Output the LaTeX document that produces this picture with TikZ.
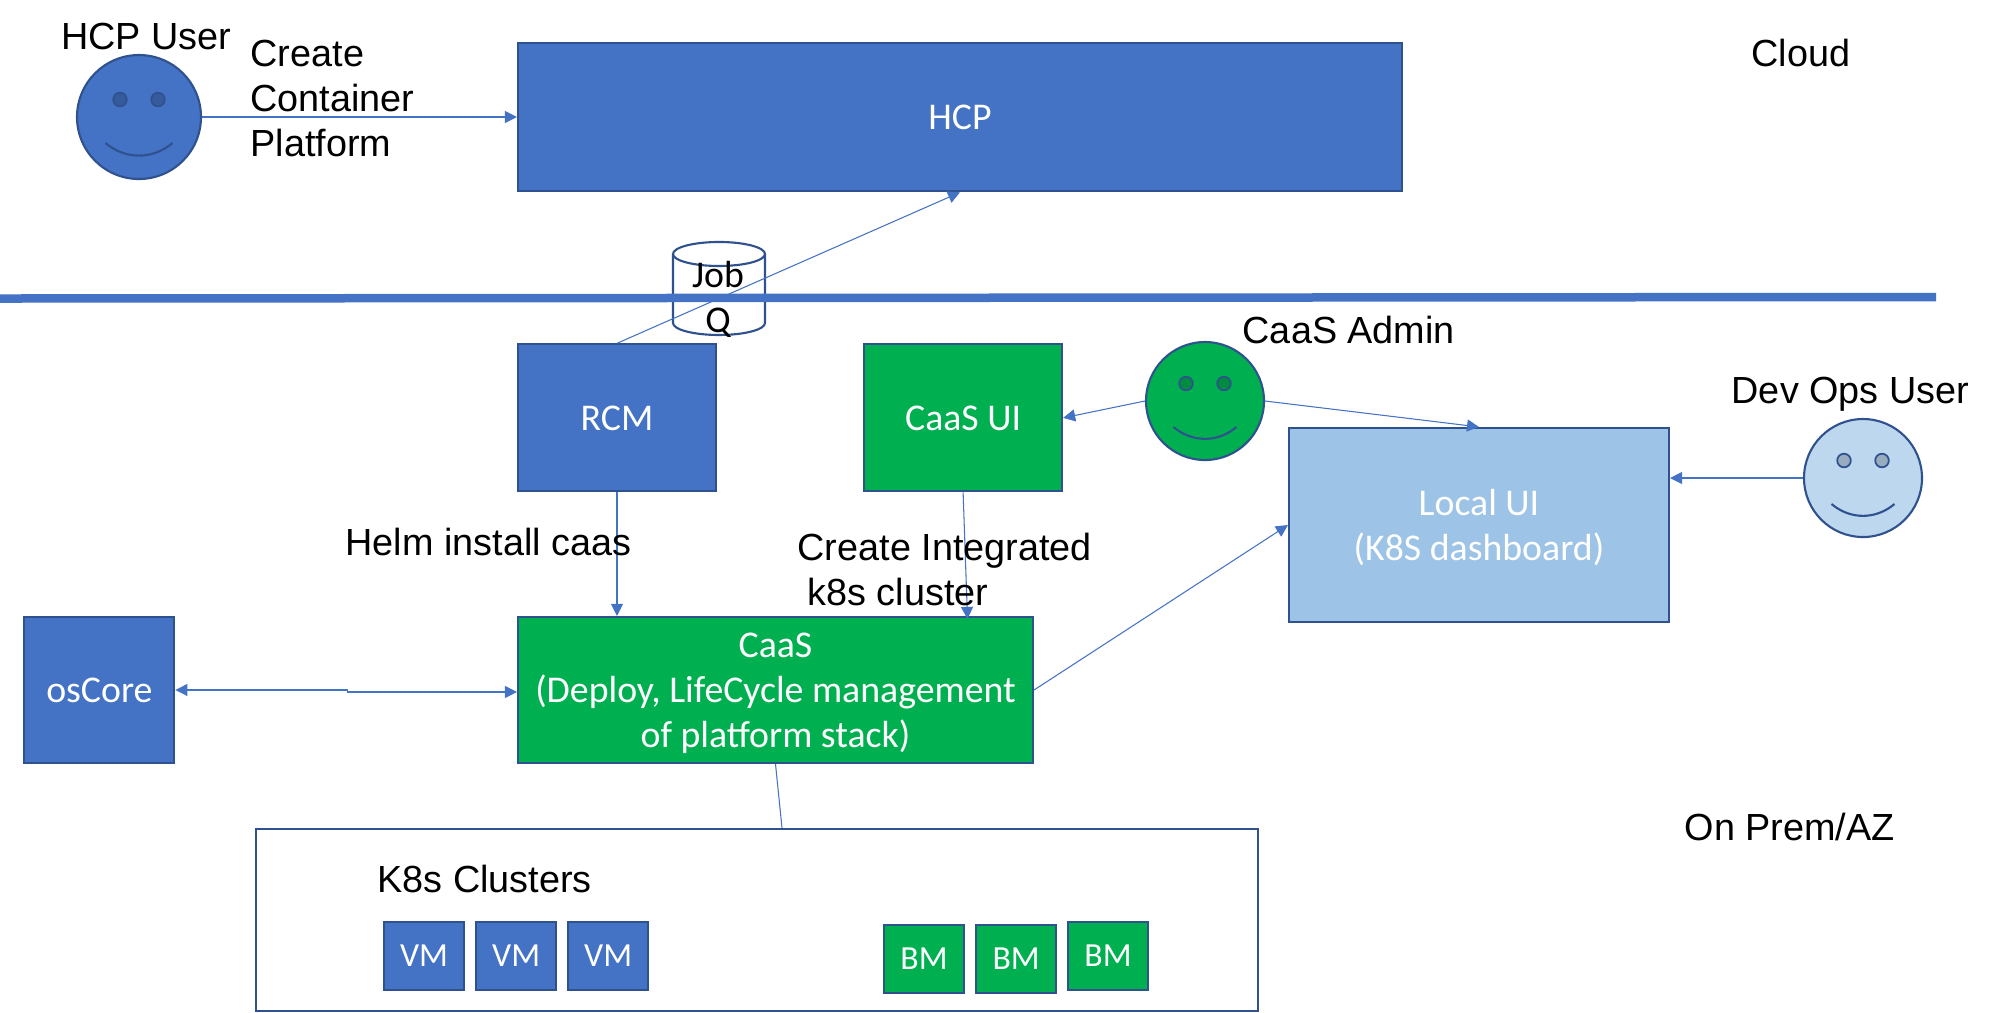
\documentclass[tikz,border=0pt]{standalone}
\usepackage{xcolor}
\usepackage{fontspec}
\setmainfont{Liberation Sans}
\newfontfamily\boxfont{Carlito}
\usepackage{tikz}
\usetikzlibrary{shapes.geometric, arrows.meta, positioning, calc}
\definecolor{hcpblue}{HTML}{4472C4}
\definecolor{caasgreen}{HTML}{00B050}
\definecolor{edgeblue}{HTML}{2F528F}
\definecolor{localblue}{HTML}{9DC3E6}
\definecolor{facelight}{HTML}{BDD7EE}
\newcommand{\labelsize}{\fontsize{10.75pt}{12.8pt}\selectfont}

\begin{document}
\begin{tikzpicture}[
  bluebox/.style={rectangle, draw=edgeblue, line width=0.6pt, fill=hcpblue, text=white, align=center, inner sep=0pt, text depth=0pt, font=\boxfont\labelsize},
  greenbox/.style={bluebox, fill=caasgreen},
  smallbox/.style={minimum width=0.8cm, minimum height=0.685cm, font=\boxfont\fontsize{9.6pt}{12.8pt}\selectfont},
  face/.style={circle, draw=edgeblue, line width=0.6pt, minimum size=1.18cm, inner sep=0pt},
  eye/.style={draw=edgeblue, line width=0.5pt, fill=black, fill opacity=0.2},
  mouth/.style={draw=edgeblue, line width=0.6pt},
  caption/.style={anchor=west, align=left, inner sep=0pt, font=\labelsize},
  arrow/.style={-{Triangle[length=1.2mm, width=1.2mm]}, line width=0.3pt, color=hcpblue},
  biarrow/.style={arrow, {Triangle[length=1.2mm, width=1.2mm]}-{Triangle[length=1.2mm, width=1.2mm]}}
]
  \useasboundingbox (0,0) rectangle (19.91,-10.12);

  % cloud side
  \node[face, fill=hcpblue, minimum size=1.24cm] (hcpuser) at (1.39,-1.17) {};
  \node[bluebox, minimum width=8.84cm, minimum height=1.485cm] (hcp) at (9.6,-1.17) {HCP};

  % job queue sits under the divider
  \node[cylinder, shape border rotate=90, shape aspect=0.4, draw=edgeblue, line width=0.6pt, fill=white,
        minimum width=0.92cm, minimum height=0.93cm, inner sep=0pt, text width=0.6cm, text height=0.1cm, text depth=0pt] (jobq) at (7.19,-2.95) {};
  \node[align=center, inner sep=0pt, font=\boxfont\labelsize] (jobqtext) at (7.18,-2.99) {Job\\Q};
  \coordinate (divleft) at (0,-2.985);
  \coordinate (divright) at (19.36,-2.97);
  \draw[line width=0.085cm, color=hcpblue] (divleft) -- (divright);

  % on prem side
  \node[bluebox, minimum width=1.98cm, minimum height=1.47cm, below=1.51cm of hcp.south west, anchor=north west] (rcm) {RCM};
  \node[greenbox, minimum width=1.98cm, minimum height=1.47cm, right=1.46cm of rcm] (caasui) {CaaS UI};
  \node[greenbox, minimum width=5.15cm, minimum height=1.46cm, below=1.235cm of rcm.south west, anchor=north west] (caas) {CaaS\\(Deploy, LifeCycle management\\of platform stack)};
  \node[bluebox, minimum width=1.5cm, minimum height=1.46cm, left=3.415cm of caas] (oscore) {osCore};
  \node[greenbox, fill=localblue, minimum width=3.8cm, minimum height=1.94cm] (localui) at (14.79,-5.25) {Local UI\\(K8S dashboard)};
  \node[face, fill=caasgreen] (caasadmin) at (12.05,-4.01) {};
  \node[face, fill=facelight] (devops) at (18.63,-4.78) {};

  % clusters
  \node[rectangle, draw=edgeblue, line width=0.6pt, fill=white, minimum width=10.02cm, minimum height=1.82cm] (k8s) at (7.57,-9.2) {};
  \node[bluebox, smallbox] (vma) at (4.24,-9.56) {VM};
  \node[bluebox, smallbox, right=0.10cm of vma] (vmb) {VM};
  \node[bluebox, smallbox, right=0.10cm of vmb] (vmc) {VM};
  \node[greenbox, smallbox] (bma) at (9.24,-9.59) {BM};
  \node[greenbox, smallbox, right=0.10cm of bma] (bmb) {BM};
  \node[greenbox, smallbox] (bmc) at (11.08,-9.56) {BM};

  % smileys
  \foreach \f/\w in {hcpuser/0.335, caasadmin/0.315, devops/0.315} {
    \draw[eye] ($(\f)+(-0.19,0.175)$) circle (0.068);
    \draw[eye] ($(\f)+(0.19,0.175)$) circle (0.068);
    \draw[mouth] ($(\f)+(-\w,-0.26)$) to[bend right=40] ($(\f)+(\w,-0.26)$);
  }

  \draw[arrow] (hcpuser) -- (hcp);
  \draw[arrow] (rcm.north) -- (hcp.south);
  \draw[arrow] (rcm.south) -- (rcm.south |- caas.north);
  \draw[arrow] (caasui.south) -- ([xshift=1.92cm, yshift=-0.03cm]caas.north);
  \draw[arrow] (caasadmin.west) -- (caasui.east);
  \draw[arrow] (caasadmin.east) -- (localui.north);
  \draw[arrow] (devops.west) -- (devops.west -| localui.east);
  \draw[arrow] (caas.east) -- (localui.west);
  \draw[biarrow] (oscore.east) -- ++(1.72,0) |- ([yshift=-0.02cm]caas.west);
  \draw[line width=0.3pt, color=hcpblue] (caas.south) -- ([xshift=0.25cm]k8s.north);

  % texts
  \node[caption] (hcpusertext) at (0.605,-0.36) {HCP User};
  \node[caption] (createtext) at (2.5,-0.98) {Create\\Container\\Platform};
  \node[caption] (cloudtext) at (17.51,-0.53) {Cloud};
  \node[caption] (helmtext) at (3.45,-5.42) {Helm install caas};
  \node[caption] (clustertext) at (7.97,-5.69) {Create Integrated\\\hspace*{0.1cm}k8s cluster};
  \node[caption] (admintext) at (12.42,-3.3) {CaaS Admin};
  \node[caption] (devopstext) at (17.31,-3.94) {Dev Ops User};
  \node[caption] (premtext) at (16.84,-8.27) {On Prem/AZ};
  \node[caption] (k8stext) at (3.77,-8.79) {K8s Clusters};
\end{tikzpicture}
\end{document}
